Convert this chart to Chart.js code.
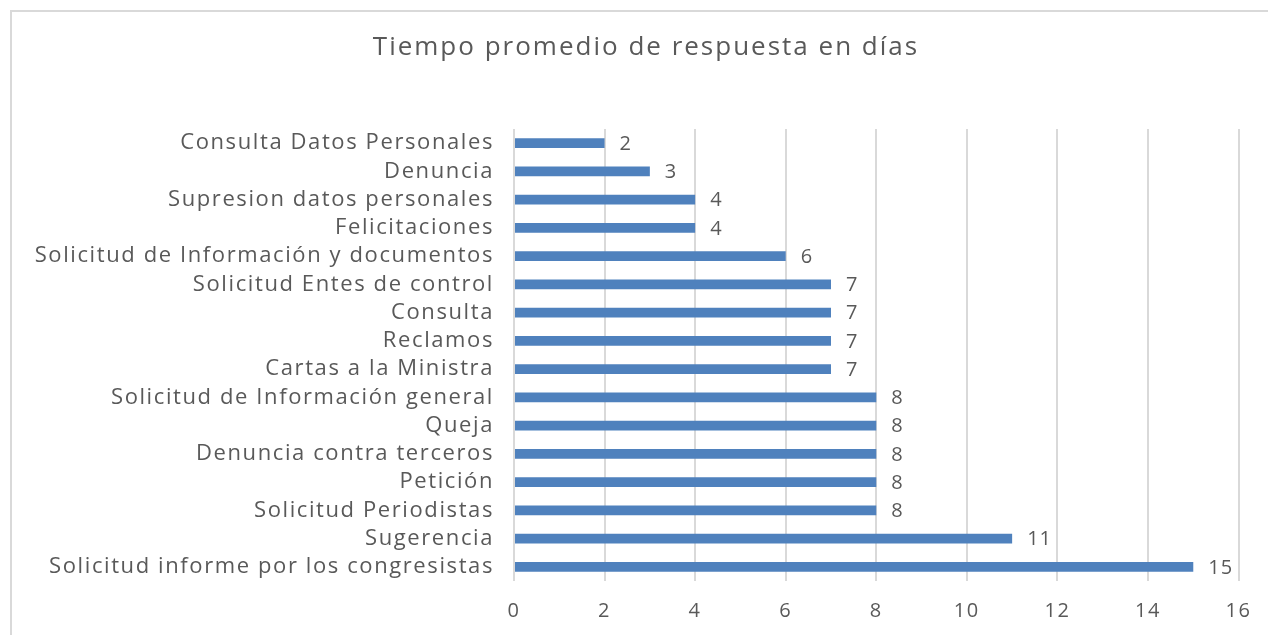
<!DOCTYPE html>
<html lang="es">
<head>
  <meta charset="UTF-8" />
  <title>Tiempo promedio de respuesta en días</title>
  <style>
    body {
      margin: 0;
      background: #fff;
      font-family: "Open Sans", Arial, sans-serif;
    }
    .frame {
      position: absolute;
      left: 10px;
      top: 10px;
      width: 1262px;
      height: 630px;
      border: 2px solid #d9d9d9;
    }
    .wrap {
      position: absolute;
      left: 0;
      top: 0;
      width: 1268px;
      height: 635px;
    }
  </style>
</head>
<body>
  <div class="frame"></div>
  <div class="wrap"><canvas id="chart" width="1268" height="635"></canvas></div>

  <script src="https://cdn.jsdelivr.net/npm/chart.js"></script>
  <script>
    const chartTitle = 'Tiempo promedio de respuesta en días';

    const categories = [
      'Consulta Datos Personales',
      'Denuncia',
      'Supresion datos personales',
      'Felicitaciones',
      'Solicitud de Información y documentos',
      'Solicitud Entes de control',
      'Consulta',
      'Reclamos',
      'Cartas a la Ministra',
      'Solicitud de Información general',
      'Queja',
      'Denuncia contra terceros',
      'Petición',
      'Solicitud Periodistas',
      'Sugerencia',
      'Solicitud informe por los congresistas'
    ];

    const days = [2, 3, 4, 4, 6, 7, 7, 7, 7, 8, 8, 8, 8, 8, 11, 15];

    const xTicks = [0, 2, 4, 6, 8, 10, 12, 14, 16];

    const textColor = '#595959';
    const fontFamily = '"Open Sans", Arial, sans-serif';

    // the reference font is wider, so space the letters out a bit
    const spacing = {
      id: 'spacing',
      beforeDraw(chart) {
        chart.ctx.letterSpacing = '1.6px';
      }
    };

    // value labels at the end of each bar + the title
    const extras = {
      id: 'extras',
      afterDatasetsDraw(chart) {
        const ctx = chart.ctx;
        const meta = chart.getDatasetMeta(0);
        ctx.save();
        ctx.fillStyle = textColor;
        ctx.letterSpacing = '1px';
        ctx.font = '20px ' + fontFamily;
        ctx.textAlign = 'left';
        ctx.textBaseline = 'middle';
        meta.data.forEach((bar, i) => {
          ctx.fillText(String(days[i]), bar.x + 15, bar.y + 1);
        });
        ctx.letterSpacing = '2px';
        ctx.font = '26px ' + fontFamily;
        ctx.textAlign = 'center';
        ctx.fillText(chartTitle, 646, 48);
        ctx.restore();
      }
    };

    new Chart(document.getElementById('chart'), {
      type: 'bar',
      data: {
        labels: categories,
        datasets: [{
          data: days,
          backgroundColor: '#4f81bd',
          barPercentage: 0.7,
          categoryPercentage: 0.5
        }]
      },
      options: {
        indexAxis: 'y',
        responsive: false,
        animation: false,
        layout: { padding: { top: 129, right: 28, left: 0, bottom: 0 } },
        plugins: {
          legend: { display: false },
          tooltip: { enabled: false }
        },
        scales: {
          x: {
            min: 0,
            max: 16,
            afterBuildTicks(scale) {
              scale.ticks = xTicks.map(v => ({ value: v }));
            },
            afterFit(scale) { scale.height = 54; },
            grid: { color: '#d9d9d9', lineWidth: 2, drawTicks: false },
            border: { display: false },
            ticks: {
              color: textColor,
              padding: 18,
              font: { family: fontFamily, size: 20 }
            }
          },
          y: {
            afterFit(scale) { scale.width = 514; },
            grid: { display: false, drawTicks: false },
            border: { display: false },
            ticks: {
              color: textColor,
              padding: 20,
              autoSkip: false,
              font: { family: fontFamily, size: 22 }
            }
          }
        }
      },
      plugins: [spacing, extras]
    });
  </script>
</body>
</html>
